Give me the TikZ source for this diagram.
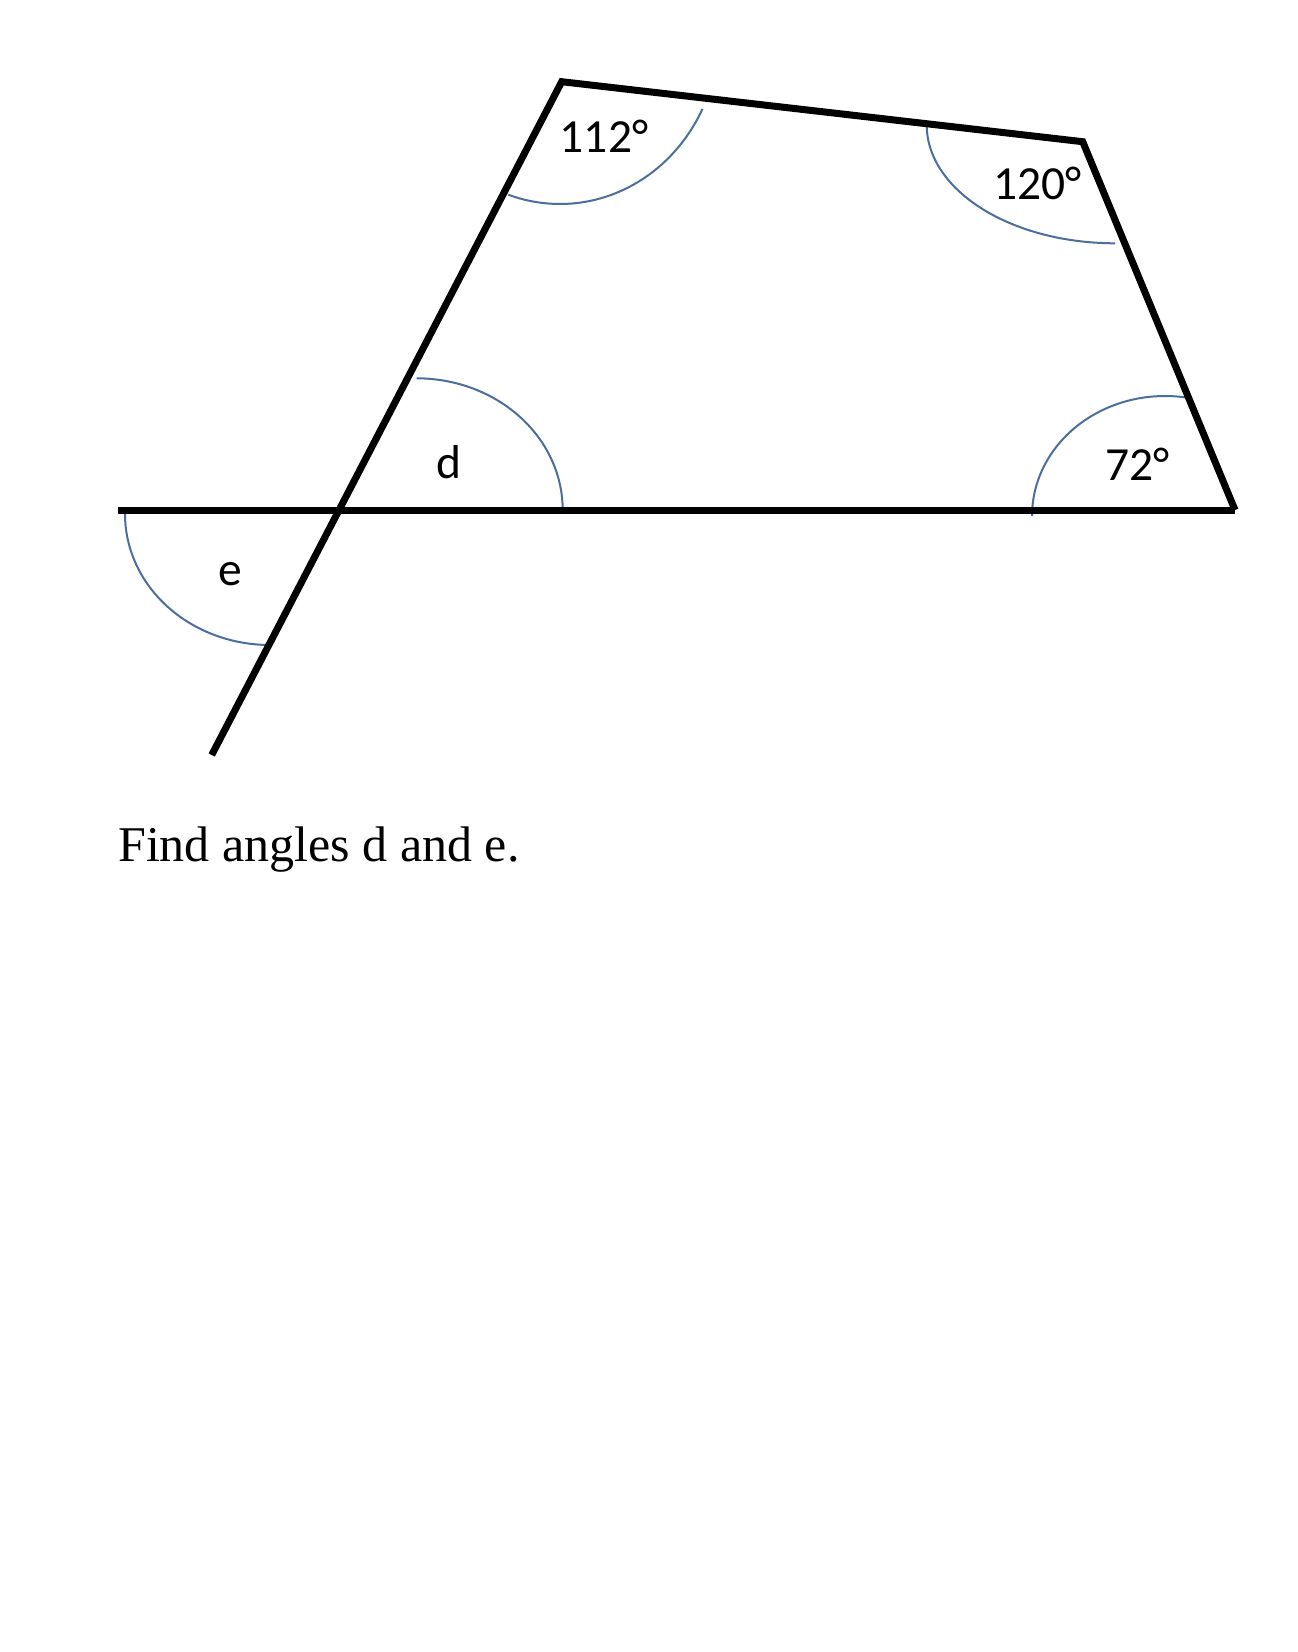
\documentclass[tikz,border=0pt]{standalone}
\usepackage{fontspec}
\setmainfont{Liberation Serif}
\newfontfamily\lblfont{Carlito}
\definecolor{arcblue}{HTML}{4A6F9E}
\tikzset{
  edge/.style={line width=7pt, black, line join=miter},
  anglearc/.style={line width=2pt, arcblue},
  lbl/.style={font=\lblfont\fontsize{47.5}{52}\selectfont, inner sep=0pt, anchor=center},
}
\begin{document}
\begin{tikzpicture}[x=1pt,y=-1pt]
\useasboundingbox[fill=white] (0,0) rectangle (1298,1652);
% points
\coordinate (A) at (561.7,81.7);
\coordinate (B) at (1082.7,141.7);
\coordinate (C) at (1235,510);
\coordinate (L) at (118,510);
\coordinate (E) at (211.7,755);
% angle arcs
\draw[anglearc] plot[domain=26.4:109, samples=60, variable=\t] ({560+159*cos(\t)},{33+171*sin(\t)});
\draw[anglearc] plot[domain=90:180, samples=60, variable=\t] ({1115+188.3*cos(\t)},{125+118.3*sin(\t)});
\draw[anglearc] plot[domain=-90:0, samples=60, variable=\t] ({416.7+146*cos(\t)},{510+131.7*sin(\t)});
\draw[anglearc] plot[domain=180:279.4, samples=60, variable=\t] ({1165+133*cos(\t)},{516+120*sin(\t)});
\draw[anglearc] plot[domain=90:180, samples=60, variable=\t] ({270+145*cos(\t)},{514+131*sin(\t)});
% lines
\draw[edge] (L) -- (C);
\draw[edge] (E) -- (A) -- (B) -- (C);
% labels
\node[lbl] (l112) at (604,136.7) {112°};
\node[lbl] (l120) at (1037.5,183.3) {120°};
\node[lbl] (l72) at (1137.5,464) {72°};
\node[lbl] (ld) at (449,462.5) {d};
\node[lbl] (le) at (230.8,574.2) {e};
\node[font=\fontsize{50}{58}\selectfont, inner sep=0pt, anchor=base west] (q) at (118,861.7) {Find angles d and e.};
\end{tikzpicture}
\end{document}
